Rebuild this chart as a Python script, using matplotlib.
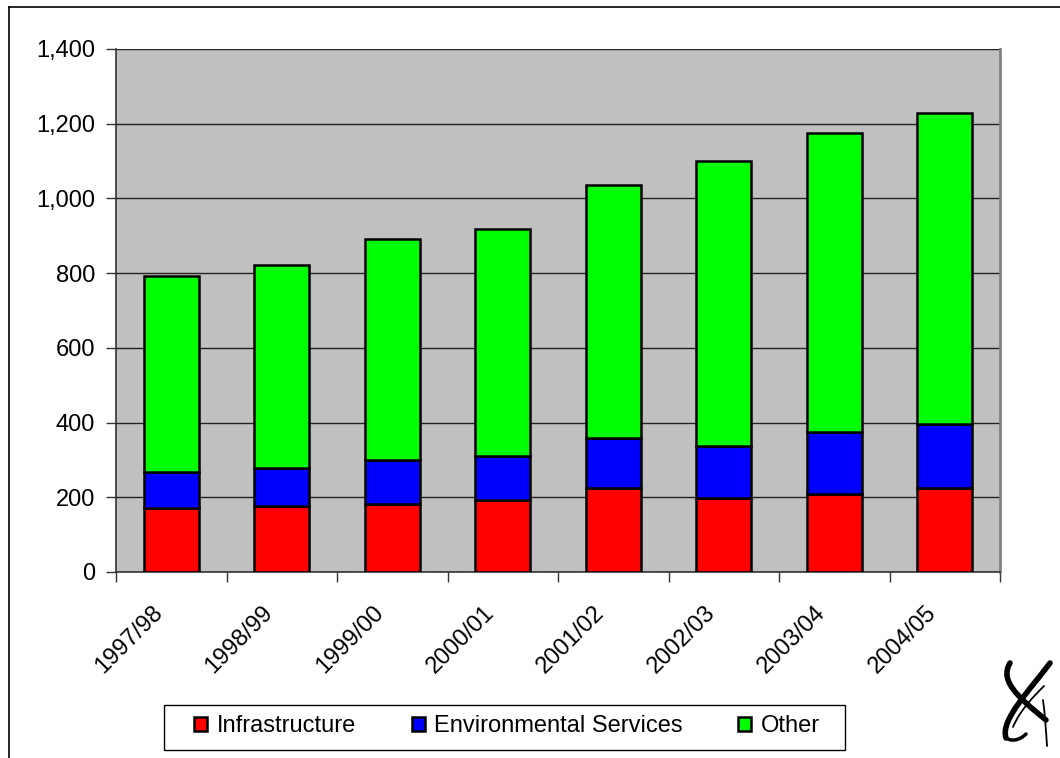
import matplotlib
matplotlib.use("Agg")
import matplotlib.pyplot as plt
import numpy as np
from matplotlib.patches import Rectangle, PathPatch
from matplotlib.path import Path
from matplotlib.lines import Line2D
from matplotlib.ticker import FuncFormatter, FixedLocator
import matplotlib.transforms as mtransforms

plt.rcParams['font.family'] = ['Liberation Sans', 'DejaVu Sans']

categories = ["1997/98", "1998/99", "1999/00", "2000/01", "2001/02", "2002/03", "2003/04", "2004/05"]
infrastructure = [172, 176, 182, 192, 224, 197, 208, 224]
environmental = [96, 103, 117, 119, 135, 140, 167, 172]
other = [525, 542, 592, 607, 676, 763, 800, 833]
series_names = ["Infrastructure", "Environmental Services", "Other"]
colors = ["#FF0000", "#0000FF", "#00FF00"]

W, H = 1060, 758
FS = 17
fig = plt.figure(figsize=(W / 100, H / 100), dpi=100)
ax = fig.add_axes([116 / W, 1 - 572 / H, (1000 - 116) / W, (572 - 49) / H])
ax.set_facecolor("#C0C0C0")

x = np.arange(len(categories))
bottom = np.zeros(len(categories))
handles = []
for vals, name, c in zip([infrastructure, environmental, other], series_names, colors):
    b = ax.bar(x, vals, width=0.5, bottom=bottom, color=c, edgecolor="black",
               linewidth=1.8, label=name, zorder=3)
    handles.append(b)
    bottom += np.array(vals)

ax.set_xlim(-0.5, len(categories) - 0.5)
ax.set_ylim(0, 1400)
ax.set_yticks(np.arange(0, 1401, 200))
ax.yaxis.set_major_formatter(FuncFormatter(lambda v, p: f"{int(v):,}"))
ax.yaxis.grid(True, color="#222222", linewidth=1.0, zorder=1)
ax.set_axisbelow(True)

ax.xaxis.set_major_locator(FixedLocator(np.arange(-0.5, len(categories), 1.0)))
ax.xaxis.set_major_formatter(FuncFormatter(lambda v, p: ""))
ax.xaxis.set_minor_locator(FixedLocator(x))
ax.set_xticklabels(categories, minor=True, rotation=45, ha="right",
                   rotation_mode="anchor", fontsize=FS)
ax.tick_params(axis="x", which="minor", length=0, pad=14)
ax.tick_params(axis="x", which="major", length=7, width=1, color="#333333", direction="out")
ax.tick_params(axis="y", length=7, width=1, color="#333333", direction="out", labelsize=FS, pad=8)

offset = mtransforms.ScaledTranslation(-20 / 100, -10 / 100, fig.dpi_scale_trans)
for lab in ax.get_xticklabels(minor=True):
    lab.set_transform(lab.get_transform() + offset)

for s in ["left", "bottom"]:
    ax.spines[s].set_color("#333333")
    ax.spines[s].set_linewidth(1.2)
ax.spines["top"].set_visible(False)
ax.spines["right"].set_color("#808080")
ax.spines["right"].set_linewidth(2)

# outer chart frame
fig.add_artist(Line2D([9 / W, 1.0], [1 - 7 / H, 1 - 7 / H], transform=fig.transFigure, color="black", lw=1.2))
fig.add_artist(Line2D([9 / W, 9 / W], [1 - 7 / H, 0.0], transform=fig.transFigure, color="black", lw=1.2))

# legend (frame drawn separately)
fig.add_artist(Rectangle((164 / W, 1 - 750 / H), (845 - 164) / W, 45 / H,
                         transform=fig.transFigure, facecolor="white", edgecolor="black", lw=1.0))
leg = fig.legend(handles=handles, labels=series_names, loc="center",
                 bbox_to_anchor=(507 / W, 1 - 726 / H), ncol=3, fontsize=FS,
                 frameon=False, handlelength=0.55, handleheight=0.55,
                 columnspacing=2.35, handletextpad=0.4, borderpad=0.2)

# logo approximation (pixel coords, y down)
def px(pts):
    return [(a / W, 1 - b / H) for a, b in pts]

C4 = Path.CURVE4
logo_paths = [
    ([(1050, 663), (1030, 690), (1000, 720), (1006, 738)], 4.0),
    ([(1006, 738), (1012, 742), (1020, 740), (1026, 734)], 2.5),
    ([(1010, 663), (1000, 680), (1015, 695), (1046, 720)], 4.0),
    ([(1013, 727), (1020, 710), (1035, 695), (1044, 686)], 1.3),
    ([(1043, 700), (1045, 715), (1046, 730), (1047, 746)], 1.3),
]
for pts, lw in logo_paths:
    path = Path(px(pts), [Path.MOVETO, C4, C4, C4])
    fig.add_artist(PathPatch(path, transform=fig.transFigure, facecolor="none",
                             edgecolor="black", lw=lw, capstyle="round"))

fig.savefig("out.png", dpi=100)
